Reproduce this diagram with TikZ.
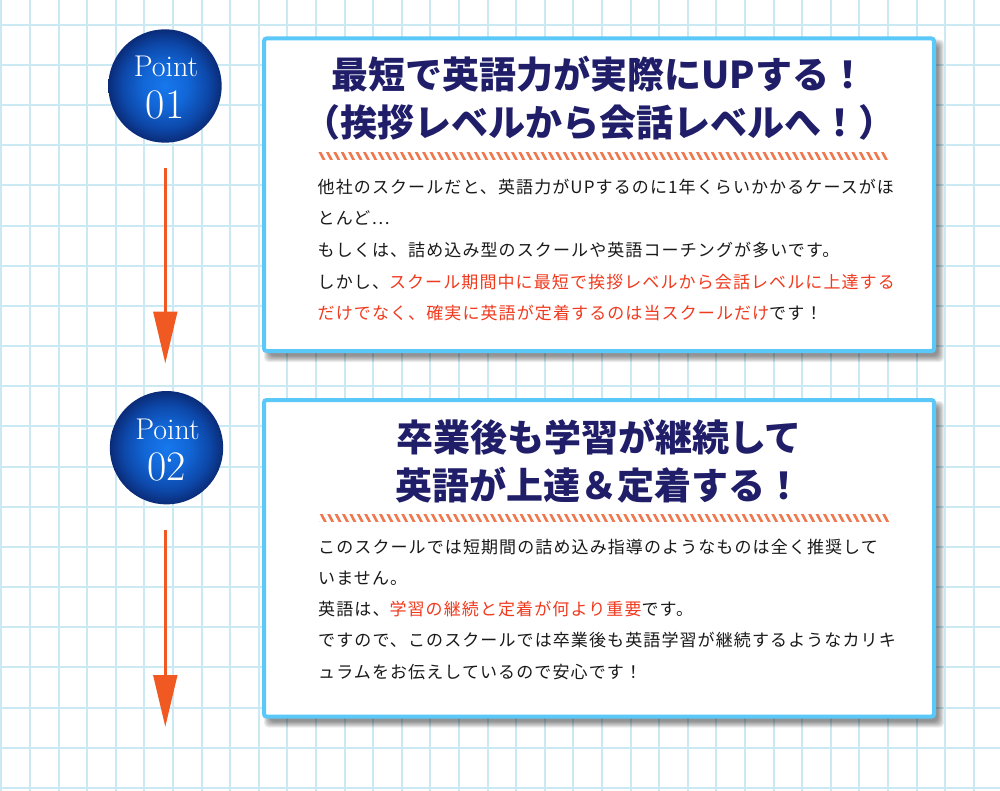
\documentclass[tikz,border=0pt]{standalone}
\usepackage{fontspec}
\newfontfamily\jp{Noto Sans CJK JP}
\newfontfamily\jpbody[LetterSpace=6.5]{Noto Sans CJK JP}
\usetikzlibrary{arrows.meta}
\definecolor{gridc}{RGB}{202,233,243}
\definecolor{boxblue}{RGB}{90,200,248}
\definecolor{navy}{RGB}{32,30,105}
\definecolor{redc}{RGB}{240,58,30}
\definecolor{bodyc}{RGB}{25,25,25}
\definecolor{arrowc}{RGB}{240,90,34}
\definecolor{stripec}{RGB}{240,120,78}
\pgfdeclareradialshading{ballshade}{\pgfpoint{0bp}{0bp}}{%
  rgb(0bp)=(0.09,0.47,0.93);
  rgb(10bp)=(0.07,0.40,0.84);
  rgb(19bp)=(0.05,0.28,0.66);
  rgb(25bp)=(0.04,0.17,0.47);
  rgb(50bp)=(0.04,0.17,0.47)}
\tikzset{
  gridline/.style={gridc, line width=2pt},
  infobox/.style={draw=boxblue, line width=4pt, fill=white, rounded corners=2.5pt, inner sep=0pt},
  shadowlayer/.style={fill=black, opacity=0.075, rounded corners=4pt},
  ball/.style={circle, shading=ballshade, inner sep=0pt, minimum size=113.4pt},
  pointtxt/.style={text=white, inner sep=0pt, font=\fontsize{30}{34}\selectfont},
  numtxt/.style={text=white, inner sep=0pt, font=\fontsize{42}{46}\selectfont},
  titletxt/.style={text=navy, inner sep=0pt, font=\jp\bfseries\fontsize{37}{44}\selectfont},
  bodytxt/.style={text=bodyc, inner sep=0pt, font=\jpbody\fontsize{17}{20}\selectfont},
  stripeline/.style={stripec, line width=2.6pt},
  flowarrow/.style={draw=arrowc, line width=3.6pt, -{Triangle[length=52pt,width=23.5pt,fill=arrowc]}}
}
\begin{document}
\begin{tikzpicture}[x=1pt,y=-1pt]
\useasboundingbox (0,0) rectangle (1000,791);
\fill[white] (0,0) rectangle (1000,791);
% grid
\foreach \i in {0,...,35} \draw[gridline] ({1.4+28.6*\i},0) -- ({1.4+28.6*\i},791);
\foreach \j in {0,...,19} \draw[gridline] (0,{24.7+40.17*\j}) -- (1000,{24.7+40.17*\j});

% shadows
\foreach \s in {-3,...,3} \fill[shadowlayer] ({262+5-\s},{36.5+6-\s}) rectangle ({936+5+\s},{353+6+\s});
\foreach \s in {-3,...,3} \fill[shadowlayer] ({262+5-\s},{398-\s+6}) rectangle ({936+5+\s},{718.5+6+\s});

% boxes
\node[infobox, minimum width=670pt, minimum height=312.5pt] (box1) at (599,194.75) {};
\node[infobox, minimum width=670pt, minimum height=316.5pt] (box2) at (599,558.25) {};

% circles
\node[ball] (c1) at (165,86) {};
\node[pointtxt, anchor=base] (p1) at (166,77) {Point};
\node[numtxt, anchor=base] (n1) at (165,118.3) {01};
\node[ball] (c2) at (166.5,447.7) {};
\node[pointtxt, anchor=base] (p2) at (167.5,439) {Point};
\node[numtxt, anchor=base] (n2) at (166.5,480) {02};

% arrows
\coordinate (a1s) at (165.3,168);
\coordinate (a1e) at (165.3,363.5);
\draw[flowarrow] (a1s) -- (a1e);
\coordinate (a2s) at (165.3,530);
\coordinate (a2e) at (165.3,727);
\draw[flowarrow] (a2s) -- (a2e);

% titles
\node[titletxt, anchor=base] (t1a) at (599,89) {最短で英語力が実際にUPする！};
\node[titletxt, anchor=base] (t1b) at (599,137) {（挨拶レベルから会話レベルへ！）};
\node[titletxt, anchor=base] (t2a) at (599,451) {卒業後も学習が継続して};
\node[titletxt, anchor=base] (t2b) at (599,499) {英語が上達＆定着する！};

% stripes
\begin{scope}
\clip (318,153) rectangle (888,159.5);
\foreach \k in {0,...,80} \draw[stripeline] ({312+7.4*\k},151) -- ({312+7.4*\k+5.5},161.5);
\end{scope}
\begin{scope}
\clip (319,514.5) rectangle (890,521);
\foreach \k in {0,...,80} \draw[stripeline] ({313+7.4*\k},512.5) -- ({313+7.4*\k+5.5},523);
\end{scope}

% body text box 1
\node[bodytxt, anchor=base west] (b1l1) at (317.5,193.5) {他社のスクールだと、英語力がUPするのに1年くらいかかるケースがほ};
\node[bodytxt, anchor=base west] (b1l2) at (317.5,225) {とんど…};
\node[bodytxt, anchor=base west] (b1l3) at (317.5,256.5) {もしくは、詰め込み型のスクールや英語コーチングが多いです。};
\node[bodytxt, anchor=base west] (b1l4) at (317.5,288) {しかし、{\color{redc}スクール期間中に最短で挨拶レベルから会話レベルに上達する}};
\node[bodytxt, anchor=base west] (b1l5) at (317.5,319.5) {{\color{redc}だけでなく、確実に英語が定着するのは当スクールだけ}です！};

% body text box 2
\node[bodytxt, anchor=base west] (b2l1) at (318,553.5) {このスクールでは短期間の詰め込み指導のようなものは全く推奨して};
\node[bodytxt, anchor=base west] (b2l2) at (318,584.5) {いません。};
\node[bodytxt, anchor=base west] (b2l3) at (318,615.5) {英語は、{\color{redc}学習の継続と定着が何より重要}です。};
\node[bodytxt, anchor=base west] (b2l4) at (318,646.5) {ですので、このスクールでは卒業後も英語学習が継続するようなカリキ};
\node[bodytxt, anchor=base west] (b2l5) at (318,678) {ュラムをお伝えしているので安心です！};
\end{tikzpicture}
\end{document}
